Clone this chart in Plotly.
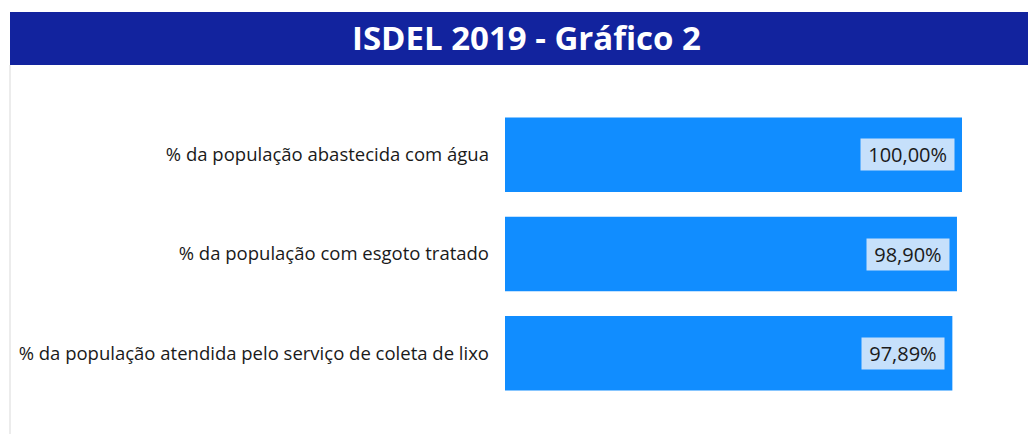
import plotly.graph_objects as go

categories = [
    "% da população abastecida com água",
    "% da população com esgoto tratado",
    "% da população atendida pelo serviço de coleta de lixo",
]
values = [100.00, 98.90, 97.89]
value_labels = ["100,00%", "98,90%", "97,89%"]
title_text = "ISDEL 2019 - Gráfico 2"

BAR = "#118DFF"
BANNER = "#12239E"
TXT = "#252423"
FONT = "Open Sans"

W, H = 1028, 434
L, T, B = 505, 105, 31
PW = 458
PH = H - T - B

fig = go.Figure(
    go.Bar(
        y=categories,
        x=values,
        orientation="h",
        marker=dict(color=BAR, line=dict(width=0)),
        hoverinfo="skip",
    )
)

for cat, v, lab in zip(categories, values, value_labels):
    fig.add_annotation(
        x=v, y=cat, xref="x", yref="y",
        text="\u00a0" + lab + "\u00a0", showarrow=False,
        xanchor="right", xshift=-7,
        bgcolor="#C6E0FB", borderpad=2,
        font=dict(family=FONT, size=20, color="#1a1a1a"),
    )

def px_x(p):
    return (p - L) / PW

def px_y(p):
    return (H - B - p) / PH

# title banner
fig.add_shape(type="rect", xref="paper", yref="paper",
              x0=px_x(10), x1=px_x(W + 5),
              y0=px_y(65), y1=px_y(12),
              fillcolor=BANNER, line=dict(width=0), layer="below")
# faint left border
fig.add_shape(type="line", xref="paper", yref="paper",
              x0=px_x(10), x1=px_x(10), y0=px_y(65), y1=px_y(H + 5),
              line=dict(color="#ececec", width=2), layer="below")
fig.add_annotation(
    xref="paper", yref="paper",
    x=px_x(526), y=px_y(38),
    text="<b>" + title_text + "</b>", showarrow=False,
    xanchor="center", yanchor="middle",
    font=dict(family=FONT, size=33, color="white"),
)

fig.update_layout(
    width=W, height=H,
    margin=dict(l=L, r=W - L - PW, t=T, b=B),
    paper_bgcolor="white", plot_bgcolor="white",
    bargap=0.25, showlegend=False,
    font=dict(family=FONT, color=TXT),
    xaxis=dict(range=[0, 100 * PW / 457], visible=False, fixedrange=True),
    yaxis=dict(
        categoryorder="array", categoryarray=categories[::-1],
        showgrid=False, zeroline=False, showline=False,
        ticks="", ticklabelstandoff=15,
        tickfont=dict(family=FONT, size=18.5, color="#1a1a1a"),
        fixedrange=True,
    ),
)

fig.write_html("out.html", config={"displayModeBar": False},
               post_script="document.body.style.margin='0';document.body.style.overflow='hidden';")
